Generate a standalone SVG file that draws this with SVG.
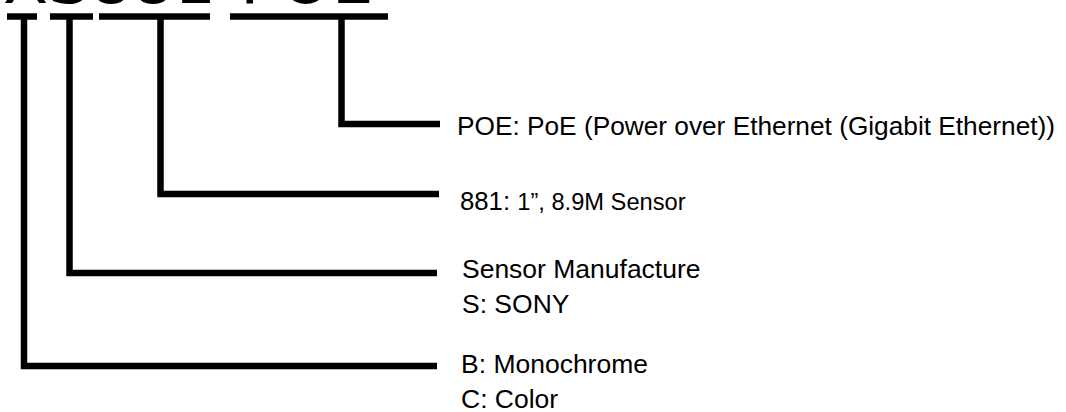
<svg xmlns="http://www.w3.org/2000/svg" width="1066" height="412" viewBox="0 0 1066 412">
<style>
  .lbl { font-family: "Liberation Sans", Arial, sans-serif; font-size: 25px; fill: #000; }
  .sm { font-size: 23px; }
  .title { font-family: "DejaVu Sans", Verdana, sans-serif; font-size: 66px; fill: #000; }
  .conn { fill: none; stroke: #000; stroke-width: 6.5; stroke-linecap: butt; stroke-linejoin: miter; }
</style>
<rect width="1066" height="412" fill="#fff"/>
<g id="title">
  <text class="title" x="3" y="3">XS881-POE</text>
</g>
<g id="connectors">
  <line class="conn" x1="7" y1="16.5" x2="37" y2="16.5"/>
  <line class="conn" x1="50" y1="16.5" x2="93" y2="16.5"/>
  <line class="conn" x1="99" y1="16.5" x2="210" y2="16.5"/>
  <line class="conn" x1="230" y1="16.5" x2="388" y2="16.5"/>
  <polyline class="conn" points="24,16.5 24,366 437,366"/>
  <polyline class="conn" points="69.5,16.5 69.5,273 437,273"/>
  <polyline class="conn" points="160.5,16.5 160.5,194 439,194"/>
  <polyline class="conn" points="341.5,16.5 341.5,124 440,124"/>
</g>
<g id="node-poe" transform="translate(457,0) scale(1.05,1) translate(-457,0)">
  <text class="lbl" x="457" y="135">POE: PoE (Power over Ethernet (Gigabit Ethernet))</text>
</g>
<g id="node-881" transform="translate(460,0) scale(1.03,1) translate(-460,0)">
  <text class="lbl" x="460" y="210.5">881: <tspan class="sm">1”, 8.9M Sensor</tspan></text>
</g>
<g id="node-sensor" transform="translate(462,0) scale(1.06,1) translate(-462,0)">
  <text class="lbl" x="462" y="278">Sensor Manufacture</text>
  <text class="lbl" x="462" y="313">S: SONY</text>
</g>
<g id="node-color" transform="translate(461,0) scale(1.06,1) translate(-461,0)">
  <text class="lbl" x="461" y="373">B: Monochrome</text>
  <text class="lbl" x="461" y="408">C: Color</text>
</g>
</svg>
